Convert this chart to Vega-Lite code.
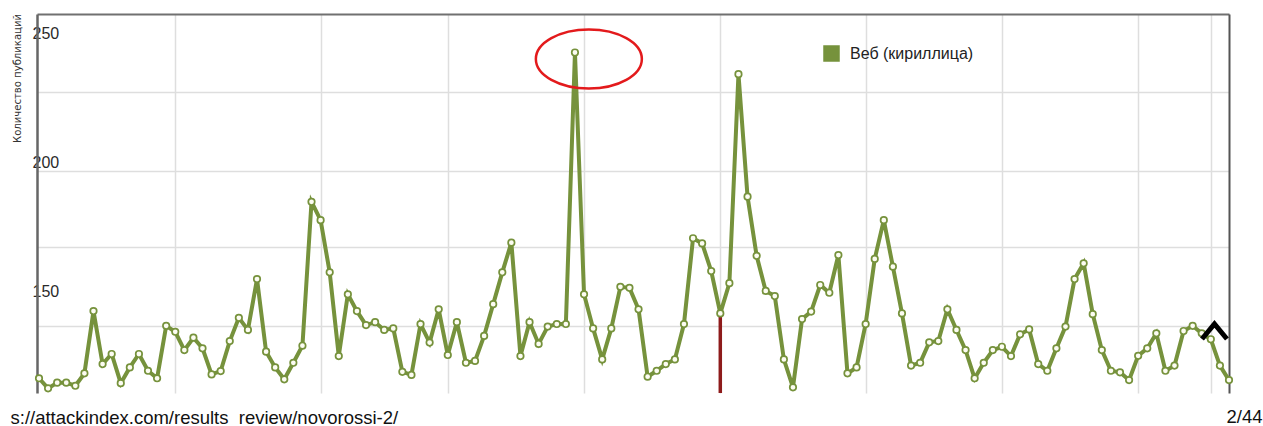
{
  "$schema": "https://vega.github.io/schema/vega-lite/v6.json",
  "width": 1192,
  "height": 379,
  "autosize": {"type": "none"},
  "padding": {"left": 37, "top": 14, "right": 34, "bottom": 33},
  "background": "white",
  "config": {"view": {"stroke": null}, "font": "Liberation Sans"},
  "data": {"values": [
    {"i":0,"v":116.5},{"i":1,"v":112.6},{"i":2,"v":114.8},{"i":3,"v":114.8},{"i":4,"v":113.6},{"i":5,"v":118.4},{"i":6,"v":142.5},{"i":7,"v":122.0},{"i":8,"v":125.9},{"i":9,"v":114.6},
    {"i":10,"v":120.7},{"i":11,"v":125.9},{"i":12,"v":119.4},{"i":13,"v":116.5},{"i":14,"v":136.8},{"i":15,"v":134.5},{"i":16,"v":127.4},{"i":17,"v":132.2},{"i":18,"v":128.1},{"i":19,"v":118.0},
    {"i":20,"v":119.3},{"i":21,"v":130.9},{"i":22,"v":139.9},{"i":23,"v":135.2},{"i":24,"v":154.9},{"i":25,"v":126.8},{"i":26,"v":120.7},{"i":27,"v":116.1},{"i":28,"v":122.5},{"i":29,"v":129.1},
    {"i":30,"v":184.8},{"i":31,"v":177.7},{"i":32,"v":157.5},{"i":33,"v":125.1},{"i":34,"v":149.0},{"i":35,"v":142.5},{"i":36,"v":137.1},{"i":37,"v":138.2},{"i":38,"v":135.2},{"i":39,"v":135.8},
    {"i":40,"v":119.0},{"i":41,"v":117.8},{"i":42,"v":137.5},{"i":43,"v":130.3},{"i":44,"v":143.2},{"i":45,"v":125.5},{"i":46,"v":138.2},{"i":47,"v":122.5},{"i":48,"v":123.2},{"i":49,"v":132.9},
    {"i":50,"v":145.2},{"i":51,"v":157.5},{"i":52,"v":169.0},{"i":53,"v":125.1},{"i":54,"v":138.2},{"i":55,"v":129.8},{"i":56,"v":136.5},{"i":57,"v":137.5},{"i":58,"v":137.5},{"i":59,"v":242.6},
    {"i":60,"v":149.0},{"i":61,"v":135.8},{"i":62,"v":123.8},{"i":63,"v":135.8},{"i":64,"v":151.9},{"i":65,"v":151.5},{"i":66,"v":143.2},{"i":67,"v":117.1},{"i":68,"v":119.4},{"i":69,"v":122.0},
    {"i":70,"v":123.8},{"i":71,"v":137.5},{"i":72,"v":170.7},{"i":73,"v":168.7},{"i":74,"v":158.0},{"i":75,"v":141.6},{"i":76,"v":153.3},{"i":77,"v":234.2},{"i":78,"v":186.8},{"i":79,"v":163.9},
    {"i":80,"v":150.3},{"i":81,"v":148.3},{"i":82,"v":123.8},{"i":83,"v":113.0},{"i":84,"v":139.4},{"i":85,"v":142.3},{"i":86,"v":152.6},{"i":87,"v":149.6},{"i":88,"v":164.2},{"i":89,"v":118.4},
    {"i":90,"v":120.7},{"i":91,"v":137.5},{"i":92,"v":162.7},{"i":93,"v":177.7},{"i":94,"v":159.7},{"i":95,"v":141.6},{"i":96,"v":121.4},{"i":97,"v":122.5},{"i":98,"v":130.4},{"i":99,"v":130.9},
    {"i":100,"v":143.2},{"i":101,"v":135.2},{"i":102,"v":127.4},{"i":103,"v":116.5},{"i":104,"v":122.5},{"i":105,"v":127.4},{"i":106,"v":128.7},{"i":107,"v":125.1},{"i":108,"v":133.5},{"i":109,"v":135.4},
    {"i":110,"v":122.0},{"i":111,"v":119.4},{"i":112,"v":128.1},{"i":113,"v":136.5},{"i":114,"v":154.9},{"i":115,"v":161.0},{"i":116,"v":141.3},{"i":117,"v":127.4},{"i":118,"v":119.4},{"i":119,"v":118.8},
    {"i":120,"v":115.8},{"i":121,"v":125.2},{"i":122,"v":128.1},{"i":123,"v":133.9},{"i":124,"v":119.4},{"i":125,"v":121.4},{"i":126,"v":134.8},{"i":127,"v":136.8},{"i":128,"v":133.9},{"i":129,"v":131.6},
    {"i":130,"v":121.4},{"i":131,"v":115.8}
  ]},
  "encoding": {
    "x": {"field": "i", "type": "quantitative", "scale": {"domain": [-0.22, 131], "nice": false, "zero": false},
      "axis": {"orient": "top", "values": [15, 31, 45, 60, 75, 91, 106, 121, 129], "grid": true, "gridColor": "#dedede", "gridWidth": 1.5,
        "labels": false, "ticks": false, "domain": true, "domainColor": "#707070", "domainWidth": 2,
        "title": "s://attackindex.com/results\u00a0\u00a0review/novorossi-2/", "titleX": -27, "titleY": 403, "titleAlign": "left", "titleBaseline": "middle",
        "titleFontSize": 18.5, "titleFontWeight": "normal", "titleColor": "#111", "titleFont": "Liberation Sans"}}
  },
  "layer": [
    {
      "mark": {"type": "line", "color": "#76923c", "strokeWidth": 4},
      "encoding": {
        "y": {"field": "v", "type": "quantitative", "scale": {"domain": [110.8, 257.5], "nice": false, "zero": false},
          "axis": {"orient": "left", "values": [150, 200, 250], "grid": false, "ticks": false, "tickSize": 0, "labelPadding": 5,
            "labelAlign": "left", "labelBaseline": "middle", "labelFontSize": 16, "labelColor": "#2a2a2a", "labelFont": "Liberation Sans",
            "domain": true, "domainColor": "#666", "domainWidth": 2.5,
            "title": "Количество публикаций", "titleFont": "Liberation Sans Narrow, DejaVu Sans Condensed", "titleFontSize": 11.2,
            "titleFontWeight": "normal", "titleColor": "#333", "titleAngle": -90, "titleX": -20, "titleY": 64, "titleAlign": "center", "titleBaseline": "middle"}},
        "color": {"datum": "Веб (кириллица)", "type": "nominal", "scale": {"range": ["#76923c"]},
          "legend": {"orient": "none", "legendX": 786, "legendY": 31, "title": null, "symbolType": "square", "symbolSize": 225,
            "symbolFillColor": "#76923c", "symbolStrokeColor": "#d5e0b8", "symbolStrokeWidth": 1.5,
            "labelFontSize": 16, "labelOffset": 10, "labelColor": "#222", "labelFont": "Liberation Sans", "padding": 0}}
      }
    },
    {
      "data": {"values": [{"i": 75, "top": 141.6, "bottom": 110.8}]},
      "mark": {"type": "rule", "color": "#8e1b1b", "strokeWidth": 3.5},
      "encoding": {
        "y": {"field": "top", "type": "quantitative", "scale": {"domain": [110.8, 257.5], "nice": false, "zero": false}, "axis": null},
        "y2": {"field": "bottom"}
      }
    },
    {
      "mark": {"type": "point", "filled": true, "fill": "#fcfcf2", "stroke": "#76923c", "strokeWidth": 1.7, "size": 42, "opacity": 1},
      "encoding": {
        "y": {"field": "v", "type": "quantitative", "scale": {"domain": [110.8, 257.5], "nice": false, "zero": false},
          "axis": {"orient": "right", "values": [136.8, 167.2, 196.8, 227.2], "grid": true, "gridColor": "#dedede", "gridWidth": 1.5,
            "labels": false, "ticks": false, "domain": true, "domainColor": "#555", "domainWidth": 2,
            "title": "2/44", "titleAngle": 0, "titleX": 15, "titleY": 402, "titleAlign": "center", "titleBaseline": "middle",
            "titleFontSize": 18.5, "titleFontWeight": "normal", "titleColor": "#111", "titleFont": "Liberation Sans"}}
      }
    },
    {
      "data": {"values": [{"i": 60.53, "v": 240.1}]},
      "mark": {"type": "point", "filled": false, "stroke": "#e31a1c", "strokeWidth": 2.5, "opacity": 1, "size": 11236,
        "shape": "M -1 0 A 1 0.557 0 1 0 1 0 A 1 0.557 0 1 0 -1 0 Z"},
      "encoding": {
        "y": {"field": "v", "type": "quantitative", "scale": {"domain": [110.8, 257.5], "nice": false, "zero": false}, "axis": null}
      }
    },
    {
      "data": {"values": [{"i": 129.4, "v": 134.6}]},
      "mark": {"type": "point", "filled": false, "stroke": "#000", "strokeWidth": 5, "opacity": 1, "size": 625,
        "shape": "M -1 0.6 L 0 -0.6 L 1 0.6"},
      "encoding": {
        "y": {"field": "v", "type": "quantitative", "scale": {"domain": [110.8, 257.5], "nice": false, "zero": false}, "axis": null}
      }
    }
  ],
  "resolve": {"axis": {"y": "independent"}}
}
